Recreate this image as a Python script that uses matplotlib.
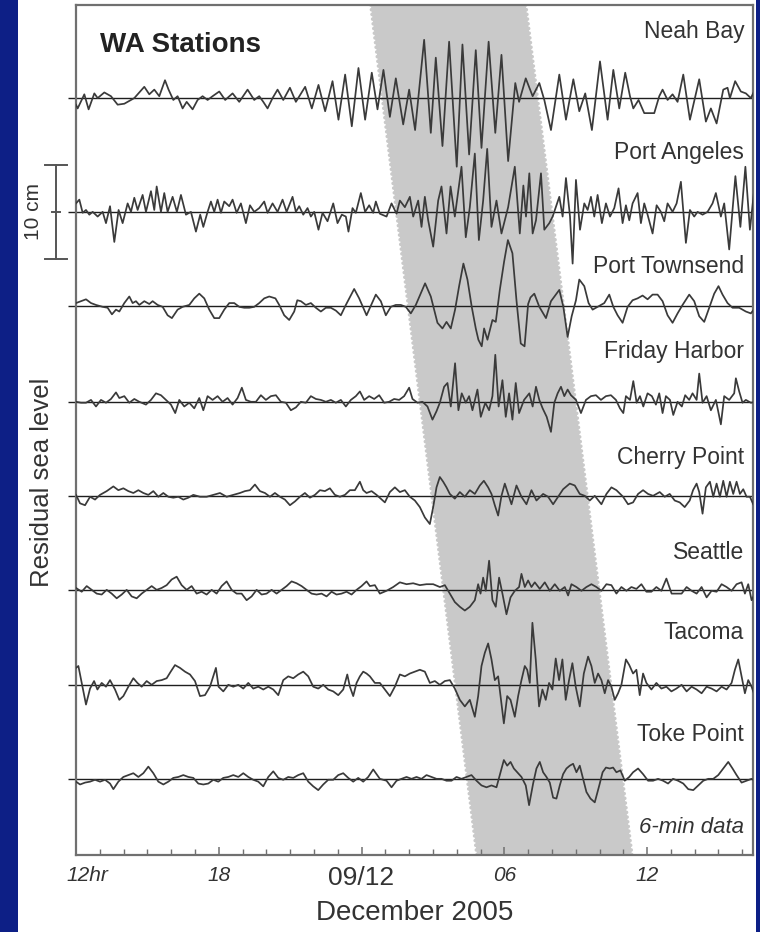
import numpy as np
import matplotlib
matplotlib.use("Agg")
import matplotlib.pyplot as plt
from matplotlib.patches import Polygon, Rectangle
from matplotlib.transforms import ScaledTranslation, blended_transform_factory

plt.rcParams['font.family'] = ['Liberation Sans', 'DejaVu Sans']

# ---------------------------------------------------------------------------
# Data: residual sea level (cm) versus time (hours from 00:00, 8 Dec 2005)
# ---------------------------------------------------------------------------
stations = ["Neah Bay", "Port Angeles", "Port Townsend", "Friday Harbor",
            "Cherry Point", "Seattle", "Tacoma", "Toke Point"]
baseline_cm = [80.5, 68.4, 58.4, 48.2, 38.2, 28.2, 18.1, 8.1]
label_cm = [87.6, 74.7, 62.6, 53.5, 42.3, 32.2, 23.7, 12.8]

neah_bay = [
    (12.00, -0.7), (12.07, -1.1), (12.35, 0.4), (12.53, -1.2), (12.77, 0.5), (12.91, 0.0),
    (13.19, 0.6), (13.47, 0.2), (13.75, -0.7), (14.03, -0.6), (14.31, -0.2), (14.45, 0.0),
    (14.87, 1.2), (15.08, 0.4), (15.29, 0.9), (15.50, 0.2), (15.74, 1.9), (15.89, 0.9),
    (16.09, -0.2), (16.27, 0.2), (16.48, -1.1), (16.65, -0.4), (16.90, -1.2), (17.11, -0.2),
    (17.32, 0.2), (17.53, -0.2), (17.74, 0.2), (18.02, 0.7), (18.27, -0.2), (18.58, 0.5),
    (18.86, -0.4), (19.21, 0.9), (19.49, -0.2), (19.70, 0.2), (19.87, -0.4), (20.05, -1.1),
    (20.26, 0.0), (20.47, 0.9), (20.71, -0.2), (20.99, 1.1), (21.24, -0.4), (21.63, 1.2),
    (21.91, -1.1), (22.19, 1.4), (22.47, -1.4), (22.78, 1.8), (23.03, -2.3), (23.31, 2.5),
    (23.59, -3.0), (23.87, 3.2), (24.15, -2.3), (24.43, 2.7), (24.67, -1.2), (24.92, 3.0),
    (25.19, -2.0), (25.44, 2.1), (25.75, -2.8), (26.00, 0.9), (26.25, -3.4), (26.63, 6.2),
    (26.91, -3.7), (27.12, 4.3), (27.40, -5.1), (27.68, 6.0), (28.00, -7.3), (28.24, 5.7),
    (28.52, -6.0), (28.80, 5.1), (29.04, -5.3), (29.34, 6.0), (29.62, -3.7), (29.88, 4.6),
    (30.16, -6.7), (30.46, 1.6), (30.62, -0.4), (30.90, 2.1), (31.19, 0.2), (31.47, 1.6),
    (31.68, -0.2), (31.96, -3.4), (32.31, 2.5), (32.59, -2.3), (32.90, 2.0), (33.15, -1.4),
    (33.40, 0.5), (33.68, -3.4), (34.02, 3.9), (34.34, -2.3), (34.58, 3.0), (34.83, -1.1),
    (35.08, 2.7), (35.28, 0.2), (35.42, -1.1), (35.64, -0.2), (35.88, -1.6), (36.30, -1.6),
    (36.51, 0.2), (36.65, 0.9), (36.86, -0.2), (37.07, 0.4), (37.28, -0.4), (37.52, 2.5),
    (37.80, -2.3), (38.19, 2.0), (38.47, -2.5), (38.68, -1.1), (38.92, -2.7), (39.20, 0.9),
    (39.38, 1.1), (39.48, 0.0), (39.70, 1.8), (39.94, 0.7), (40.15, 0.5), (40.36, 0.0),
    (40.57, 1.1),
]

port_angeles = [
    (12.00, 0.9), (12.14, 1.3), (12.28, -0.1), (12.42, 0.2), (12.56, -0.3), (12.70, 0.0),
    (12.91, -0.5), (13.12, 0.0), (13.26, -1.2), (13.43, 0.6), (13.61, -3.2), (13.79, 0.2),
    (13.96, -1.2), (14.17, 0.9), (14.31, 0.0), (14.45, 1.5), (14.59, 0.2), (14.80, 1.8),
    (14.94, 0.0), (15.15, 2.2), (15.29, 0.2), (15.39, 2.7), (15.57, 0.0), (15.71, 2.0),
    (15.85, 0.0), (16.06, 1.6), (16.24, 0.0), (16.41, 1.8), (16.62, -0.3), (16.83, 0.0),
    (17.04, -2.1), (17.22, -0.3), (17.35, -1.6), (17.53, 0.0), (17.67, 1.1), (17.81, 0.0),
    (17.95, 1.3), (18.09, -0.1), (18.23, 1.1), (18.44, 0.6), (18.58, 1.3), (18.75, -0.1),
    (18.93, 0.9), (19.14, -1.2), (19.31, 0.7), (19.49, 0.0), (19.70, 0.4), (19.91, 1.1),
    (20.05, -0.1), (20.26, 0.9), (20.47, 0.0), (20.68, 1.3), (20.85, 0.0), (21.10, 1.6),
    (21.24, 0.0), (21.38, 0.6), (21.55, -0.3), (21.73, 0.4), (21.87, -0.5), (22.01, 0.0),
    (22.19, -1.9), (22.36, -0.1), (22.57, -1.0), (22.81, 0.9), (22.99, -1.2), (23.17, -0.3),
    (23.34, -0.5), (23.45, -2.1), (23.62, 0.4), (23.76, -0.1), (23.97, 2.0), (24.15, 0.0),
    (24.32, 0.7), (24.49, -0.1), (24.60, 1.1), (24.77, -0.2), (25.05, -0.5), (25.26, 0.9),
    (25.47, -0.2), (25.61, 1.2), (25.82, 0.5), (26.03, 1.6), (26.17, -0.5), (26.38, 1.2),
    (26.52, -1.6), (26.66, 1.6), (26.80, -0.9), (27.01, -3.7), (27.22, 1.2), (27.36, 2.7),
    (27.57, -2.3), (27.74, 2.7), (27.92, -0.5), (28.20, 4.8), (28.38, -2.7), (28.55, 0.5),
    (28.76, 6.2), (28.93, -3.0), (29.11, 1.2), (29.28, 6.7), (29.46, -1.6), (29.67, 1.2),
    (29.88, -2.3), (30.16, 0.5), (30.44, 4.8), (30.65, -2.3), (30.80, 2.8), (30.91, -0.5),
    (31.05, 4.1), (31.19, -2.3), (31.33, -0.9), (31.54, 4.1), (31.68, -1.9), (31.89, -1.2),
    (32.03, -0.5), (32.31, 1.6), (32.45, -0.5), (32.59, 3.6), (32.76, -0.5), (32.87, -5.5),
    (33.01, 3.4), (33.18, -1.9), (33.36, 0.9), (33.50, 0.2), (33.64, 1.6), (33.78, -0.5),
    (33.92, 1.8), (34.10, -1.2), (34.27, 0.9), (34.44, -0.5), (34.62, 0.4), (34.80, 2.5),
    (34.97, -1.2), (35.11, 0.7), (35.25, -0.9), (35.39, 0.9), (35.60, 2.0), (35.74, -1.2),
    (35.88, 0.9), (36.02, -0.3), (36.23, -2.3), (36.40, 0.7), (36.58, 0.0), (36.72, -1.0),
    (36.86, 0.9), (37.07, 0.0), (37.24, 0.9), (37.42, 3.2), (37.63, -3.3), (37.80, 0.2),
    (37.98, -0.5), (38.12, 0.0), (38.33, -0.3), (38.54, 0.0), (38.75, 0.9), (38.89, 2.0),
    (39.10, -0.5), (39.24, 0.9), (39.45, -4.0), (39.71, 3.8), (39.92, -1.6), (40.13, 4.8),
    (40.32, -1.9), (40.50, 2.3),
]

port_townsend = [
    (12.00, 0.3), (12.21, 0.5), (12.42, 0.7), (12.63, 0.3), (12.84, 0.1), (13.12, -0.1),
    (13.33, -0.2), (13.51, -0.9), (13.68, -0.4), (13.82, -0.6), (14.03, 0.3), (14.24, 1.0),
    (14.38, 0.3), (14.52, 0.5), (14.66, 0.1), (14.87, 0.5), (15.08, 0.2), (15.22, 0.5),
    (15.43, 0.1), (15.64, -0.1), (15.85, -1.0), (16.03, -1.3), (16.27, -0.4), (16.48, -0.1),
    (16.76, 0.1), (16.97, 0.8), (17.18, 1.3), (17.39, 0.8), (17.60, -0.4), (17.81, -1.3),
    (18.02, -1.3), (18.23, -0.4), (18.44, 0.3), (18.65, 0.3), (18.86, -0.1), (19.07, -0.2),
    (19.28, -0.2), (19.49, -0.1), (19.70, 0.3), (19.91, 0.8), (20.12, 1.0), (20.38, 0.8),
    (20.54, 0.1), (20.75, -1.0), (20.96, -1.5), (21.17, -0.6), (21.30, 0.6), (21.45, 0.5),
    (21.66, 0.1), (21.87, 0.3), (22.08, -0.2), (22.29, -0.6), (22.50, -0.2), (22.71, -0.2),
    (22.92, -0.5), (23.13, -1.0), (23.34, 0.1), (23.69, 1.8), (23.90, 0.8), (24.21, -1.0),
    (24.60, 1.2), (24.81, 0.5), (25.02, -1.0), (25.23, -0.1), (25.44, 0.1), (25.65, 0.1),
    (25.86, -0.1), (26.07, -0.8), (26.28, 0.1), (26.67, 2.4), (26.91, 1.0), (27.19, -1.8),
    (27.40, -2.4), (27.57, -1.7), (27.75, -2.4), (27.93, -0.4), (28.10, 2.1), (28.28, 4.5),
    (28.45, 2.8), (28.63, -0.1), (28.80, -2.4), (28.91, -3.6), (29.05, -4.3), (29.15, -2.4),
    (29.29, -3.6), (29.50, -1.5), (29.64, -1.7), (29.81, 1.7), (29.99, 4.7), (30.15, 7.0),
    (30.34, 5.6), (30.51, 0.6), (30.69, -4.0), (30.85, -4.3), (31.00, 0.2), (31.10, 0.9),
    (31.26, 1.3), (31.47, -0.1), (31.75, -1.3), (31.96, 0.5), (32.31, 1.7), (32.48, -0.1),
    (32.66, -3.3), (32.83, -1.1), (33.01, 0.6), (33.15, 2.8), (33.36, 2.1), (33.54, 0.3),
    (33.71, -0.4), (33.92, -0.1), (34.20, 0.3), (34.41, 1.2), (34.58, -0.1), (34.76, -1.0),
    (34.97, -1.8), (35.18, -0.1), (35.39, 0.6), (35.60, 0.8), (35.81, 1.1), (36.02, 0.7),
    (36.23, 1.2), (36.44, 1.2), (36.65, 0.5), (36.86, -1.0), (37.07, -1.8), (37.28, -0.8),
    (37.49, 0.1), (37.77, 1.2), (37.98, 0.5), (38.19, -1.1), (38.40, -1.7), (38.61, -0.2),
    (38.82, 1.3), (39.00, 2.1), (39.17, 1.2), (39.38, 0.3), (39.59, -0.2), (39.87, -0.2),
    (40.15, -0.6), (40.36, -0.8), (40.57, -0.1),
]

friday_harbor = [
    (12.00, 0.0), (12.21, -0.1), (12.42, -0.1), (12.63, 0.2), (12.84, -0.5), (13.05, 0.2),
    (13.26, -0.1), (13.47, 0.3), (13.68, 1.0), (13.82, 0.4), (14.03, 0.6), (14.24, -0.1),
    (14.45, 0.3), (14.66, 0.0), (14.94, -0.3), (15.15, 0.2), (15.36, 0.9), (15.57, 0.7),
    (15.78, 0.2), (15.99, -0.3), (16.17, -1.2), (16.34, 0.2), (16.55, -0.5), (16.76, -0.1),
    (16.97, -0.7), (17.18, 0.4), (17.35, -0.9), (17.53, 0.6), (17.74, 0.2), (17.95, 0.6),
    (18.16, 0.0), (18.37, 0.4), (18.58, -0.3), (18.79, 0.4), (18.97, 1.5), (19.14, 0.2),
    (19.35, 0.0), (19.56, 0.0), (19.77, 0.7), (19.98, 0.2), (20.19, 0.6), (20.40, 0.7),
    (20.61, 0.0), (20.82, -0.1), (21.03, -0.9), (21.24, -0.6), (21.45, 0.0), (21.66, -0.1),
    (21.87, 0.6), (22.08, 0.3), (22.29, 0.2), (22.50, 0.0), (22.71, 0.2), (22.92, -0.1),
    (23.13, 0.2), (23.34, -0.5), (23.55, 0.2), (23.76, 0.6), (23.93, 1.1), (24.11, 0.2),
    (24.32, 0.6), (24.53, 0.3), (24.74, 0.7), (24.95, -0.1), (25.16, 0.0), (25.37, 0.3),
    (25.58, 0.2), (25.79, 0.6), (26.00, 1.5), (26.14, 0.3), (26.35, -0.1), (26.56, 0.0),
    (26.77, -0.5), (26.98, -1.9), (27.15, -1.0), (27.29, -0.1), (27.47, 1.6), (27.61, 2.0),
    (27.75, -0.5), (27.93, 4.1), (28.07, -0.9), (28.21, 0.9), (28.38, -0.1), (28.52, 0.6),
    (28.66, -0.9), (28.87, 1.3), (29.01, -1.6), (29.20, -0.1), (29.36, -0.9), (29.50, 0.6),
    (29.62, 5.0), (29.76, -0.5), (29.92, 2.3), (30.06, -1.6), (30.20, 0.9), (30.34, -1.9),
    (30.48, 2.0), (30.62, -1.2), (30.83, 0.2), (31.05, 0.9), (31.19, -0.5), (31.33, 1.6),
    (31.47, 0.2), (31.61, -0.7), (31.78, -1.6), (31.96, -3.2), (32.10, -0.1), (32.24, 0.9),
    (32.38, 1.6), (32.52, 0.6), (32.66, 1.3), (32.80, 0.7), (33.01, 0.2), (33.22, -1.2),
    (33.43, 0.2), (33.64, 0.6), (33.85, 0.7), (34.06, 0.2), (34.27, 0.6), (34.48, 0.7),
    (34.69, 0.2), (34.86, -0.7), (35.00, -1.2), (35.11, 0.6), (35.28, 0.2), (35.42, 2.2),
    (35.56, -0.1), (35.70, 0.6), (35.84, -0.5), (36.02, 0.9), (36.20, 0.6), (36.37, -0.3),
    (36.51, 0.9), (36.65, -1.2), (36.79, 0.6), (36.96, 0.2), (37.10, -1.4), (37.28, 0.0),
    (37.46, -0.5), (37.60, 0.7), (37.77, 0.2), (37.91, 0.9), (38.08, 0.2), (38.19, 3.0),
    (38.33, -0.1), (38.50, 0.6), (38.68, -0.9), (38.89, 0.2), (39.10, -2.4), (39.24, 0.6),
    (39.45, 0.2), (39.66, 0.9), (39.73, 2.5), (39.87, 1.1), (40.01, -0.1), (40.15, 0.2),
    (40.36, -0.1), (40.57, 0.0),
]

cherry_point = [
    (12.00, 0.1), (12.17, -0.8), (12.38, -1.0), (12.59, -0.1), (12.80, -0.4), (13.01, 0.1),
    (13.29, 0.5), (13.57, 1.0), (13.78, 0.6), (13.99, 0.8), (14.20, 0.5), (14.41, 0.3),
    (14.62, 0.6), (14.83, 0.3), (15.04, 0.1), (15.25, 0.5), (15.46, -0.1), (15.67, 0.3),
    (15.88, -0.1), (16.09, -0.2), (16.30, -0.1), (16.51, -0.4), (16.72, -0.2), (16.93, 0.1),
    (17.21, -0.1), (17.49, -0.1), (17.77, 0.1), (18.05, 0.3), (18.33, -0.1), (18.61, 0.1),
    (18.89, 0.3), (19.10, 0.5), (19.31, 0.6), (19.52, 1.2), (19.73, 0.5), (19.94, 0.3),
    (20.15, -0.1), (20.36, 0.3), (20.57, -0.1), (20.78, -0.4), (20.99, -1.0), (21.20, -0.6),
    (21.41, -0.1), (21.62, 0.3), (21.83, -0.2), (22.04, 0.1), (22.25, 0.6), (22.46, 0.5),
    (22.67, 0.8), (22.88, 0.1), (23.09, -0.1), (23.30, 0.1), (23.51, 0.6), (23.72, 0.6),
    (23.93, 1.5), (24.07, 0.6), (24.21, 0.3), (24.42, 0.5), (24.63, 0.1), (24.98, -0.7),
    (25.19, 0.4), (25.40, 0.9), (25.61, 0.4), (25.82, 0.6), (26.03, -0.1), (26.24, -0.5),
    (26.45, -1.2), (26.66, -2.3), (26.87, -3.0), (27.01, -1.2), (27.15, 0.9), (27.29, 2.0),
    (27.43, 1.5), (27.57, 0.9), (27.71, 0.2), (27.92, -0.3), (28.13, 0.4), (28.34, -0.1),
    (28.55, 0.6), (28.76, 0.2), (28.97, 1.1), (29.14, 1.6), (29.32, 0.9), (29.46, 0.2),
    (29.60, -1.0), (29.74, -2.1), (29.88, 0.0), (30.02, 1.3), (30.16, 0.2), (30.30, -0.9),
    (30.51, 1.1), (30.72, -0.1), (30.93, -0.9), (31.14, 0.6), (31.35, -0.5), (31.63, 0.2),
    (31.84, -0.1), (32.05, -0.9), (32.26, -0.1), (32.47, 0.7), (32.75, 1.3), (32.96, 1.1),
    (33.17, 0.2), (33.38, 0.0), (33.59, -0.5), (33.80, 0.0), (34.08, -0.9), (34.29, 0.2),
    (34.50, 0.9), (34.71, 0.6), (34.99, -0.1), (35.20, -0.9), (35.41, -0.7), (35.62, 0.2),
    (35.83, 0.6), (36.04, 0.2), (36.25, 0.0), (36.53, 0.4), (36.74, -0.1), (36.95, 0.2),
    (37.16, -0.5), (37.37, -0.7), (37.58, -1.2), (37.79, -0.5), (37.93, 0.6), (38.08, 1.3),
    (38.19, 0.4), (38.33, -1.9), (38.47, 0.9), (38.64, 1.5), (38.78, -0.1), (38.92, 1.3),
    (39.06, -0.1), (39.20, 1.6), (39.34, -0.1), (39.48, 1.5), (39.62, 0.2), (39.76, 1.5),
    (39.90, 0.2), (40.04, 0.7), (40.18, -0.1), (40.32, -0.1), (40.46, -0.9),
]

seattle = [
    (12.00, 0.2), (12.24, -0.2), (12.45, 0.4), (12.66, 0.0), (12.87, -0.4), (13.08, -0.5),
    (13.29, 0.0), (13.50, -0.4), (13.71, -0.9), (13.92, -0.5), (14.13, 0.0), (14.34, -0.7),
    (14.55, -0.9), (14.76, -0.4), (14.97, 0.0), (15.18, 0.4), (15.39, 0.0), (15.60, 0.2),
    (15.81, 0.5), (16.02, 1.1), (16.23, 1.4), (16.44, 0.5), (16.65, 0.0), (16.86, 0.4),
    (17.07, -0.4), (17.28, -0.2), (17.49, -0.5), (17.70, 0.0), (17.91, -0.4), (18.12, 0.4),
    (18.33, 0.9), (18.54, 0.0), (18.75, -0.4), (18.96, -0.4), (19.17, -1.1), (19.38, -0.7),
    (19.59, 0.0), (19.80, -0.5), (20.01, -0.4), (20.22, 0.0), (20.43, -0.4), (20.64, 0.0),
    (20.85, 0.4), (21.06, 0.9), (21.27, 0.7), (21.48, 0.4), (21.69, 0.0), (21.90, -0.4),
    (22.11, -0.5), (22.32, -0.4), (22.53, -0.7), (22.74, -0.2), (22.95, -0.5), (23.16, -0.4),
    (23.37, -0.2), (23.58, -0.5), (23.79, 0.0), (24.00, 0.4), (24.21, 0.9), (24.35, 0.4),
    (24.56, 0.5), (24.77, -0.4), (25.05, -0.1), (25.33, 0.3), (25.61, 0.8), (25.89, 0.6),
    (26.17, 0.7), (26.45, 0.5), (26.73, 0.6), (27.01, 0.6), (27.29, 0.3), (27.50, 0.5),
    (27.71, -0.4), (27.92, -1.3), (28.13, -1.8), (28.34, -2.2), (28.55, -1.8), (28.76, -1.1),
    (28.90, 0.6), (29.00, -0.4), (29.11, 1.3), (29.22, -0.1), (29.36, 3.1), (29.50, -1.1),
    (29.64, -1.8), (29.78, 1.3), (29.92, -0.4), (30.09, -2.6), (30.26, -0.8), (30.44, -0.1),
    (30.62, 0.3), (30.72, 1.7), (30.86, 0.3), (31.00, 1.0), (31.14, 0.3), (31.28, 0.8),
    (31.49, 0.1), (31.70, 0.8), (31.91, -0.1), (32.12, 0.6), (32.33, -0.1), (32.54, 0.3),
    (32.68, -0.6), (32.82, 0.6), (33.03, 0.3), (33.24, -0.1), (33.45, 0.3), (33.66, 0.6),
    (33.87, 0.3), (34.08, -0.1), (34.29, 0.6), (34.50, 0.5), (34.71, -0.4), (34.92, 0.3),
    (35.13, -0.1), (35.34, 0.3), (35.55, 0.1), (35.76, 0.6), (35.97, -0.2), (36.18, -0.2),
    (36.39, 0.3), (36.60, -0.1), (36.81, 1.2), (37.03, -0.4), (37.24, -0.4), (37.45, -0.4),
    (37.66, 0.3), (37.87, -0.1), (38.08, -0.4), (38.29, 0.3), (38.50, -0.8), (38.71, -0.1),
    (38.92, -0.2), (39.13, 0.6), (39.34, 0.3), (39.55, -0.1), (39.76, 0.6), (39.97, 0.8),
    (40.11, -0.4), (40.25, 0.6), (40.39, -1.1), (40.53, -0.4),
]

tacoma = [
    (12.00, 1.8), (12.10, 2.0), (12.24, 0.2), (12.42, -2.1), (12.59, -0.4), (12.76, 0.4),
    (12.90, -0.5), (13.08, 0.2), (13.26, -0.2), (13.43, 0.5), (13.64, -0.5), (13.82, -1.6),
    (13.99, -1.2), (14.20, -0.2), (14.41, 0.7), (14.58, 0.2), (14.76, -0.2), (14.97, 0.4),
    (15.18, 0.0), (15.39, 0.4), (15.60, 0.5), (15.81, 0.7), (15.98, 1.4), (16.16, 2.1),
    (16.37, 1.8), (16.58, 1.4), (16.79, 1.1), (17.00, 0.4), (17.21, -1.2), (17.42, -1.1),
    (17.63, -0.2), (17.77, 0.9), (17.88, 1.8), (17.99, -0.2), (18.19, -0.7), (18.40, 0.0),
    (18.61, -0.2), (18.82, 0.0), (19.03, -0.4), (19.24, 0.2), (19.45, -0.4), (19.66, -0.2),
    (19.87, -0.5), (20.08, -0.2), (20.29, -0.5), (20.50, -1.1), (20.71, 0.5), (20.92, 0.9),
    (21.13, 0.7), (21.34, 1.1), (21.55, 1.4), (21.76, 0.9), (21.97, -0.2), (22.18, -0.4),
    (22.39, 0.0), (22.60, -0.5), (22.81, -0.7), (23.02, -1.1), (23.23, -0.5), (23.40, 1.1),
    (23.51, -0.2), (23.65, -1.2), (23.79, 0.2), (23.93, 0.9), (24.07, 1.4), (24.21, 1.2),
    (24.35, 0.9), (24.56, 0.2), (24.77, 0.2), (24.98, -0.5), (25.19, -1.2), (25.40, -0.2),
    (25.61, 1.1), (25.82, 0.9), (26.03, 1.2), (26.24, 1.4), (26.45, 1.6), (26.66, 1.4),
    (26.87, 0.2), (27.08, 0.4), (27.29, 0.0), (27.50, 0.4), (27.71, 0.5), (27.92, -0.4),
    (28.13, -1.6), (28.34, -2.3), (28.55, -1.6), (28.76, -3.4), (28.90, -1.2), (29.04, 2.0),
    (29.18, 3.4), (29.32, 4.4), (29.46, 2.7), (29.60, 0.5), (29.74, 0.9), (29.88, -2.0),
    (29.98, -4.1), (30.12, -1.2), (30.26, -1.6), (30.44, -3.4), (30.58, -1.2), (30.72, 0.5),
    (30.86, 2.0), (30.96, 1.6), (31.07, 0.2), (31.18, 6.6), (31.32, 2.7), (31.46, -2.3),
    (31.60, -0.5), (31.74, -1.6), (31.88, 0.2), (32.02, -0.5), (32.16, 2.8), (32.30, 0.5),
    (32.44, 2.7), (32.58, -1.6), (32.72, 0.5), (32.86, 2.3), (33.00, -0.2), (33.17, -2.3),
    (33.34, 1.2), (33.52, 3.0), (33.66, 2.0), (33.80, 0.2), (33.94, 1.2), (34.08, 0.5),
    (34.22, -0.9), (34.36, 0.5), (34.50, -0.2), (34.64, -1.6), (34.78, -0.9), (34.92, 0.0),
    (35.11, 2.7), (35.25, 2.1), (35.41, 1.2), (35.55, 1.6), (35.69, -1.1), (35.83, 1.2),
    (35.97, 0.2), (36.18, -0.5), (36.39, 0.2), (36.60, -0.4), (36.81, -0.2), (37.02, -0.7),
    (37.23, -0.4), (37.45, 0.0), (37.66, -0.7), (37.87, -0.2), (38.08, -0.5), (38.29, -0.9),
    (38.50, -0.2), (38.71, -0.4), (38.92, -0.7), (39.13, -0.2), (39.34, -0.5), (39.55, 0.2),
    (39.69, 1.6), (39.83, 2.7), (39.97, 0.9), (40.11, -0.9), (40.25, 0.5), (40.39, -0.2),
    (40.53, -1.2),
]

toke_point = [
    (12.00, -0.3), (12.17, -0.6), (12.38, -0.4), (12.59, -0.3), (12.80, -0.1), (13.01, -0.3),
    (13.22, -0.1), (13.43, -0.5), (13.57, -1.1), (13.78, -0.3), (13.99, 0.2), (14.20, 0.4),
    (14.41, 0.6), (14.62, 0.2), (14.83, 0.6), (15.04, 1.3), (15.25, 0.6), (15.46, -0.3),
    (15.67, -0.6), (15.88, -0.3), (16.09, 0.1), (16.30, 0.2), (16.51, 0.4), (16.72, 0.2),
    (16.93, 0.1), (17.14, -0.5), (17.35, -0.6), (17.56, -0.5), (17.77, -0.1), (17.98, -0.3),
    (18.19, 0.1), (18.40, 0.2), (18.61, 0.4), (18.82, 0.2), (19.03, 0.6), (19.24, 0.2),
    (19.45, -0.1), (19.66, -0.3), (19.87, -0.8), (20.08, 0.2), (20.29, 0.8), (20.50, 0.1),
    (20.71, -0.1), (20.92, 0.2), (21.13, 0.1), (21.34, 0.4), (21.55, 0.6), (21.76, -0.3),
    (21.97, -0.8), (22.18, -1.2), (22.39, -0.6), (22.60, -0.1), (22.81, -0.1), (23.02, 0.4),
    (23.23, 0.6), (23.44, 0.1), (23.65, -0.3), (23.86, 0.1), (24.07, -0.3), (24.28, 0.2),
    (24.49, 1.0), (24.77, 0.0), (25.05, -0.2), (25.26, -0.9), (25.47, -0.2), (25.68, 0.0),
    (25.89, 0.2), (26.10, 0.0), (26.31, 0.2), (26.52, 0.0), (26.73, 0.4), (26.94, 0.2),
    (27.15, 0.0), (27.36, 0.0), (27.57, -0.2), (27.78, -0.2), (27.99, 0.2), (28.20, 0.0),
    (28.41, 0.2), (28.62, 0.4), (28.83, -0.2), (29.04, -0.7), (29.25, -0.9), (29.46, -0.7),
    (29.67, -0.9), (29.84, 0.7), (29.98, 2.0), (30.12, 1.4), (30.26, 1.8), (30.40, 1.1),
    (30.54, 0.7), (30.72, 0.2), (30.90, -0.7), (31.04, -2.8), (31.21, -0.5), (31.35, 1.1),
    (31.49, 1.8), (31.63, 0.7), (31.77, 0.2), (31.91, -0.4), (32.05, -2.0), (32.19, -2.1),
    (32.33, -0.7), (32.47, 0.5), (32.61, 1.1), (32.75, 1.4), (32.89, 1.6), (33.03, 0.7),
    (33.17, 1.4), (33.31, 0.0), (33.45, -1.4), (33.62, -2.1), (33.80, -2.5), (33.99, -0.7),
    (34.13, 0.7), (34.27, 1.2), (34.43, 1.1), (34.57, 1.2), (34.71, 0.7), (34.88, 0.9),
    (35.06, -0.2), (35.25, 0.2), (35.41, 0.7), (35.62, 1.1), (35.83, 0.5), (36.04, -0.2),
    (36.25, -0.2), (36.46, 0.0), (36.67, -0.2), (36.88, -0.5), (37.09, 0.0), (37.30, -0.2),
    (37.52, -0.5), (37.73, -1.1), (37.94, -1.2), (38.15, -0.7), (38.36, -0.2), (38.57, 0.0),
    (38.78, 0.0), (38.99, 0.4), (39.20, 1.1), (39.41, 1.8), (39.59, 1.1), (39.76, 0.4),
    (39.97, -0.4), (40.18, -0.2), (40.39, 0.0), (40.53, -0.2),
]

records = [neah_bay, port_angeles, port_townsend, friday_harbor,
           cherry_point, seattle, tacoma, toke_point]

# Time axis: hours since 00:00 on 8 Dec 2005
t_start, t_end = 12.0, 40.45
tick_hours = [12, 18, 24, 30, 36]
tick_labels = ["12hr", "18", "09/12", "06", "12"]

# Arrival window of the disturbance (hours) at the top and bottom of the panel
band_top = (24.39, 30.90)
band_bottom = (28.85, 35.36)

scale_bar_cm = 10.0

# ---------------------------------------------------------------------------
fig = plt.figure(figsize=(7.6, 9.32), dpi=100)
fig.patch.set_facecolor("white")

# slide-style blue margins
fig.patches.append(Rectangle((0, 0), 18 / 760, 1, transform=fig.transFigure,
                             facecolor="#0d1f86", edgecolor="none", zorder=-5))
fig.patches.append(Rectangle((756 / 760, 0), 4 / 760, 1, transform=fig.transFigure,
                             facecolor="#0d1f86", edgecolor="none", zorder=-5))

ax = fig.add_axes([76 / 760, 77 / 932, 677 / 760, 850 / 932])
y_top = 90.4
ax.set_xlim(t_start, t_end)
ax.set_ylim(0, y_top)

band_color = "#c9c9c9"
ax.add_patch(Polygon([(band_top[0], y_top), (band_top[1], y_top),
                      (band_bottom[1], 0), (band_bottom[0], 0)],
                     closed=True, facecolor=band_color, edgecolor="none", zorder=0))
for edge in (0, 1):
    ax.plot([band_top[edge], band_bottom[edge]], [y_top, 0], color=band_color,
            lw=2.6, ls=(0, (0.01, 1.3)), dash_capstyle="round", zorder=0.5)

line_color = "#3a3a3a"
text_color = "#333333"
t_left = 12 + (68 - 76) / 23.8

for name, base, lab_y, rec in zip(stations, baseline_cm, label_cm, records):
    arr = np.array(rec)
    ax.plot([t_left, t_end], [base, base], color="#1e1e1e", lw=1.0,
            clip_on=False, zorder=2, solid_capstyle="butt")
    ax.plot(arr[:, 0], base + arr[:, 1], color=line_color, lw=1.25, zorder=3)
    ax.text(0.987, lab_y, name, transform=blended_transform_factory(ax.transAxes, ax.transData),
            ha="right", va="center", fontsize=16.5, color=text_color, zorder=4)

ax.text(0.987, 2.9, "6-min data", transform=blended_transform_factory(ax.transAxes, ax.transData),
        ha="right", va="center", fontsize=16, style="italic", color=text_color)
ax.text(0.035, 0.953, "WA Stations", transform=ax.transAxes, ha="left", va="center",
        fontsize=20, fontweight="bold", color="#222222")

# 10 cm scale bar centred on the Port Angeles baseline
sb_x = 12 + (56 - 76) / 23.8
sb_lo = baseline_cm[1] - scale_bar_cm / 2
sb_hi = baseline_cm[1] + scale_bar_cm / 2
bar_kw = dict(color="#555555", lw=1.4, clip_on=False)
ax.plot([sb_x, sb_x], [sb_lo, sb_hi], **bar_kw)
for yv, half in ((sb_lo, 0.45), (sb_hi, 0.45), (baseline_cm[1], 0.15)):
    ax.plot([sb_x - half, sb_x + half], [yv, yv], **bar_kw)
ax.text(12 + (33 - 76) / 23.8, baseline_cm[1], "10 cm", rotation=90, ha="center",
        va="center", fontsize=15, color=text_color, clip_on=False)

# frame and ticks
for sp in ax.spines.values():
    sp.set_color("#707070")
    sp.set_linewidth(1.6)
ax.set_yticks([])
ax.set_xticks(tick_hours)
ax.set_xticks(np.arange(13, 41), minor=True)
ax.set_xticklabels(tick_labels)
ax.tick_params(axis="x", which="major", direction="in", length=6, width=1.1,
               color="#707070", pad=8, labelsize=15, labelcolor=text_color)
ax.tick_params(axis="x", which="minor", direction="in", length=4, width=1.0,
               color="#707070")
for lab in ax.get_xticklabels():
    lab.set_fontstyle("italic")
date_lab = ax.get_xticklabels()[2]
date_lab.set_fontstyle("normal")
date_lab.set_fontsize(19)
first = ax.get_xticklabels()[0]
first.set_transform(first.get_transform() + ScaledTranslation(11 / 100, 0, fig.dpi_scale_trans))

fig.text(415 / 760, 1 - 913 / 932, "December 2005", ha="center", va="center",
         fontsize=20, color=text_color)
fig.text(42 / 760, 1 - 482 / 932, "Residual sea level", rotation=90, ha="center",
         va="center", fontsize=18.5, color=text_color)

fig.savefig("out.png", dpi=100, facecolor=fig.get_facecolor())
